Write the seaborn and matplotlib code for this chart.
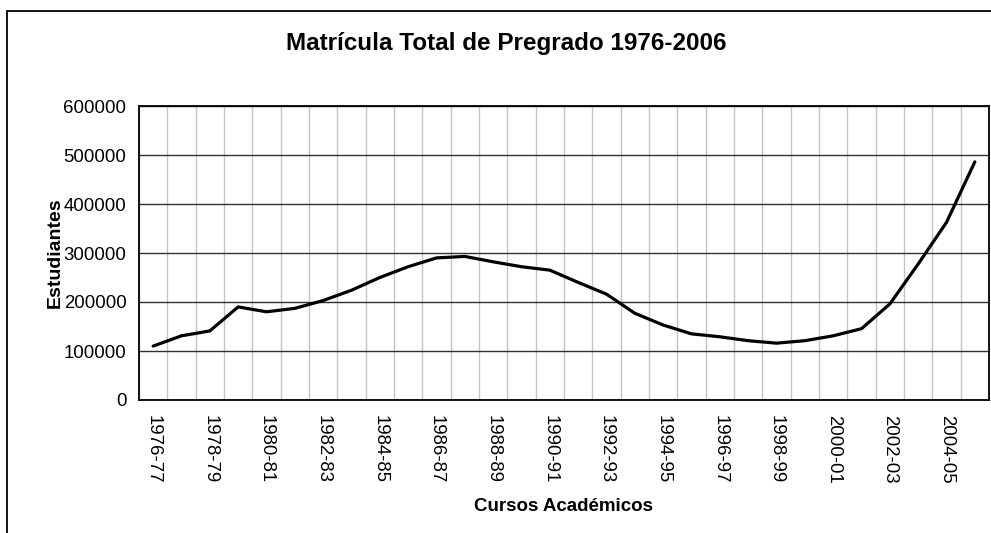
import pandas as pd
import matplotlib.pyplot as plt
import seaborn as sns
from matplotlib.patches import Rectangle
from matplotlib.ticker import MultipleLocator

# Data
cursos = [f"{y}-{str(y + 1)[-2:]}" for y in range(1976, 2006)]
estudiantes = [110000, 131000, 141000, 190000, 180000, 187000, 203000, 224000,
               250000, 272000, 290000, 293000, 282000, 272000, 265000, 240000,
               216000, 177000, 153000, 135000, 129000, 121000, 116000, 121000,
               131000, 145500, 196000, 277500, 362600, 486000]
y_ticks = [0, 100000, 200000, 300000, 400000, 500000, 600000]

df = pd.DataFrame({"pos": range(len(cursos)), "curso": cursos, "estudiantes": estudiantes})

sns.set_style("white")
plt.rcParams['font.family'] = ['Liberation Sans', 'DejaVu Sans']
plt.rcParams['text.color'] = 'black'
plt.rcParams['axes.labelcolor'] = 'black'
plt.rcParams['xtick.color'] = 'black'
plt.rcParams['ytick.color'] = 'black'

fig = plt.figure(figsize=(9.91, 5.33), dpi=100)
ax = fig.add_axes([139 / 991, 133 / 533, 850 / 991, 294 / 533])

sns.lineplot(data=df, x="pos", y="estudiantes", color="black", linewidth=2.3, ax=ax)

# axis ranges and ticks (Excel style: tick marks between categories)
ax.set_xlim(-0.5, len(cursos) - 0.5)
ax.set_ylim(0, 600000)
ax.set_yticks(y_ticks)
ax.set_yticklabels([str(v) for v in y_ticks], fontsize=13.4)
ax.set_xticks(df["pos"][::2])
ax.set_xticklabels(df["curso"][::2], rotation=-90, fontsize=13.4)
ax.xaxis.set_minor_locator(MultipleLocator(1, offset=0.5))
ax.tick_params(axis="x", which="major", length=0, pad=11)
ax.tick_params(axis="x", which="minor", length=5, width=1.2, color="black")
ax.tick_params(axis="y", length=5, width=1.2, color="black", pad=4)

# gridlines
ax.grid(axis="y", which="major", color="#303030", linewidth=1)
ax.grid(axis="x", which="minor", color="#c4c4c4", linewidth=1)
ax.set_axisbelow(True)
for s in ax.spines.values():
    s.set_color("black")
    s.set_linewidth(1.3)

ax.set_xlabel("Cursos Académicos", fontsize=13.5, fontweight="bold", labelpad=10)
ax.set_ylabel("Estudiantes", fontsize=14, fontweight="bold", labelpad=0)
fig.text(506 / 991, 1 - 43 / 533, "Matrícula Total de Pregrado 1976-2006",
         fontsize=17.5, fontweight="bold", ha="center", va="center")

# outer chart frame
fig.patches.append(Rectangle((7 / 991, -0.1), 1.2, 1.1 - 11 / 533, transform=fig.transFigure,
                             fill=False, edgecolor="black", linewidth=1.3))

fig.savefig("out.png", dpi=100)
